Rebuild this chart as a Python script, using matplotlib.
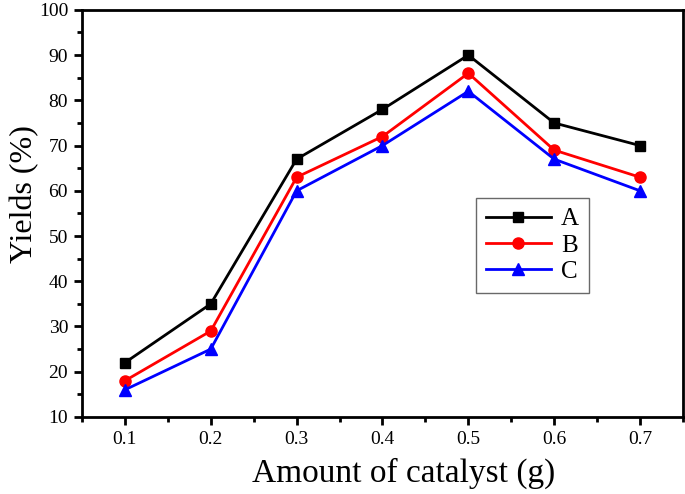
import matplotlib
matplotlib.use("Agg")
import matplotlib.pyplot as plt
from matplotlib.ticker import MultipleLocator

amount = [0.1, 0.2, 0.3, 0.4, 0.5, 0.6, 0.7]
yield_a = [22, 35, 67, 78, 90, 75, 70]
yield_b = [18, 29, 63, 72, 86, 69, 63]
yield_c = [16, 25, 60, 70, 82, 67, 60]

plt.rcParams['font.family'] = ['Liberation Serif', 'DejaVu Serif']

fig = plt.figure(figsize=(6.85, 4.94), dpi=100)
ax = fig.add_axes([0.1197, 0.156, 0.8773, 0.824])

ax.plot(amount, yield_a, color='black', marker='s', markersize=7, linewidth=2, label='A')
ax.plot(amount, yield_b, color='red', marker='o', markersize=8, linewidth=2, label='B')
ax.plot(amount, yield_c, color='blue', marker='^', markersize=9, linewidth=2, label='C')

ax.set_xlim(0.05, 0.75)
ax.set_ylim(10, 100)
ax.set_xticks(amount)
ax.set_xticklabels([f"{v:.1f}" for v in amount])
ax.xaxis.set_minor_locator(MultipleLocator(0.05))
ax.yaxis.set_major_locator(MultipleLocator(10))
ax.yaxis.set_minor_locator(MultipleLocator(5))

ax.tick_params(which='major', direction='out', length=6, width=2, labelsize=14, pad=4)
ax.tick_params(which='minor', direction='out', length=3.5, width=2)
for s in ax.spines.values():
    s.set_linewidth(2)

ax.set_xlabel("Amount of catalyst (g)", fontsize=24)
ax.set_ylabel("Yields (%)", fontsize=23)
ax.xaxis.set_label_coords(0.536, -0.10)
ax.yaxis.set_label_coords(-0.072, 0.548)

leg = ax.legend(loc='lower left', bbox_to_anchor=(0.6556, 0.3047), borderaxespad=0,
                fontsize=18, frameon=True, fancybox=False, edgecolor='#444444',
                handlelength=2.6, handletextpad=0.4, borderpad=0.4,
                labelspacing=0.15)
leg.get_frame().set_linewidth(1)

fig.savefig("out.png", dpi=100)
